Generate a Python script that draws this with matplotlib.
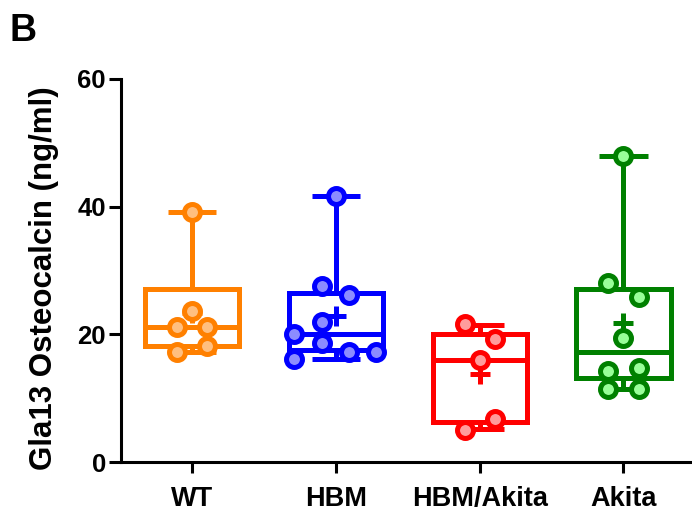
import numpy as np
import matplotlib
matplotlib.use('Agg')
import matplotlib.pyplot as plt

# groups and colours
groups = ['WT', 'HBM', 'HBM/Akita', 'Akita']
edge_cols = ['#FF8000', '#0000FF', '#FF0000', '#008000']
fill_cols = ['#FFBF80', '#8C8CFF', '#FF9C9C', '#99FF99']

# individual values (ng/ml)
wt = [39.1, 23.7, 21.2, 21.2, 18.1, 17.2]
hbm = [41.6, 27.5, 26.1, 22.0, 20.0, 18.7, 17.3, 17.3, 16.2]
hbm_akita = [21.6, 19.2, 16.0, 6.7, 5.0]
akita = [48.0, 28.0, 25.9, 19.5, 14.8, 14.2, 11.5, 11.4]

# horizontal spread of the dots inside each group
wt_dx = [0, 0, -0.105, 0.105, 0.105, -0.105]
hbm_dx = [0, -0.1, 0.09, -0.1, -0.29, -0.1, 0.09, 0.28, -0.29]
hbm_akita_dx = [-0.105, 0.105, 0, 0.105, -0.105]
akita_dx = [0, -0.105, 0.105, 0, 0.105, -0.105, 0.105, -0.105]

# box summaries as drawn (min, q1, median, q3, max, mean)
box_min = [17.2, 16.2, 5.1, 11.4]
box_q1 = [18.1, 17.5, 6.3, 13.1]
box_med = [21.1, 20.0, 16.0, 17.3]
box_q3 = [27.1, 26.4, 20.0, 27.1]
box_max = [39.1, 41.6, 21.5, 48.0]
box_mean = [23.4, 22.9, 13.8, 21.7]

values = [wt, hbm, hbm_akita, akita]
offsets = [wt_dx, hbm_dx, hbm_akita_dx, akita_dx]

fig = plt.figure(figsize=(6.92, 5.16), dpi=100)
ax = fig.add_axes([120.5 / 692, 54 / 516, 571.5 / 692, 383 / 516])

lw = 3.6
for i in range(len(groups)):
    st = [{'whislo': box_min[i], 'q1': box_q1[i], 'med': box_med[i],
           'q3': box_q3[i], 'whishi': box_max[i], 'fliers': []}]
    c = edge_cols[i]
    ax.bxp(st, positions=[i], widths=0.655, capwidths=0.335,
           showfliers=False, patch_artist=False, manage_ticks=False,
           boxprops=dict(color=c, linewidth=lw, solid_joinstyle='miter'),
           whiskerprops=dict(color=c, linewidth=lw),
           capprops=dict(color=c, linewidth=lw, solid_capstyle='butt'),
           medianprops=dict(color=c, linewidth=lw, solid_capstyle='butt'))
    ax.plot([i], [box_mean[i]], marker='+', ms=14, mew=3.6, color=c,
            linestyle='none', zorder=4)
    xs = [i + d for d in offsets[i]]
    ax.plot(xs, values[i], 'o', ms=11.5, mew=3.6, mec=c, mfc=fill_cols[i],
            linestyle='none', zorder=5, clip_on=False)

ax.set_xlim(-0.5, 3.477)
ax.set_ylim(0, 60)
ax.set_yticks([0, 20, 40, 60])
ax.set_xticks(range(len(groups)))
ax.set_xticklabels(groups)

for s in ['top', 'right']:
    ax.spines[s].set_visible(False)
for s in ['left', 'bottom']:
    ax.spines[s].set_linewidth(2.2)
    ax.spines[s].set_capstyle('projecting')
ax.tick_params(axis='y', length=8.5, width=2.2, pad=2)
ax.tick_params(axis='x', length=8, width=2.2, pad=9)

for lab in ax.get_xticklabels():
    lab.set_family('Liberation Sans')
    lab.set_fontweight('bold')
    lab.set_fontsize(19.5)
for lab in ax.get_yticklabels():
    lab.set_family('Liberation Sans')
    lab.set_fontweight('bold')
    lab.set_fontsize(18.5)

fig.text(44 / 692, 1 - 278 / 516, 'Gla13 Osteocalcin (ng/ml)', rotation=90,
         ha='center', va='center', fontsize=22.5, fontweight='bold',
         family='Liberation Sans')
fig.text(9 / 692, 1 - 41 / 516, 'B', ha='left', va='baseline',
         fontsize=27, fontweight='bold', family='Liberation Sans')

fig.savefig('out.png', dpi=100)
